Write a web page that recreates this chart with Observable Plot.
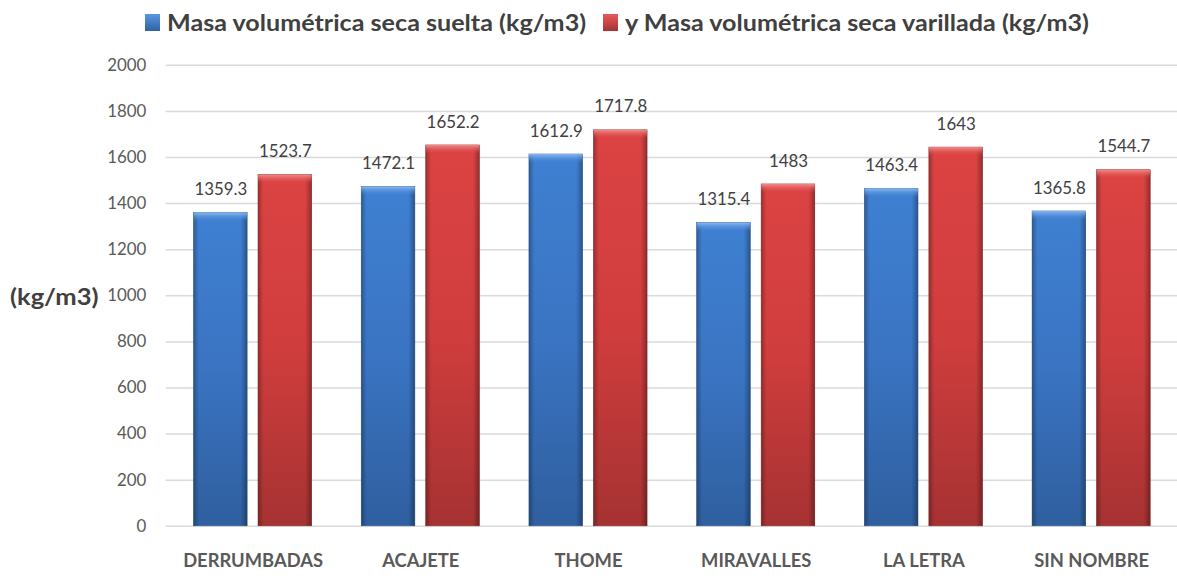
<!DOCTYPE html>
<html>
<head>
<meta charset="utf-8">
<script src="https://cdn.jsdelivr.net/npm/d3@7"></script>
<script src="https://cdn.jsdelivr.net/npm/@observablehq/plot@0.6"></script>
<style>
  html, body { margin: 0; padding: 0; background: #fff; overflow: hidden; width: 1177px; height: 578px; }
  #wrap { position: relative; width: 1177px; height: 578px; }
  #legend { position: absolute; left: 0; top: 0; height: 40px; width: 1177px; font-family: Lato, "Open Sans", sans-serif; font-weight: 700; font-size: 22px; color: #404040; }
  .item { position: absolute; top: 9px; display: flex; align-items: center; white-space: nowrap; }
  .sw { width: 15px; height: 17px; margin-right: 7px; }
  .item span { display: inline-block; transform: scaleX(1.142); transform-origin: left center; }
  #ylab { position: absolute; left: 10px; top: 283px; font-family: Lato, sans-serif; font-weight: 700; font-size: 22px; color: #404040; transform: scaleX(1.16); transform-origin: left center; }
  #chart { position: absolute; left: 0; top: 40px; }
</style>
</head>
<body>
<div id="wrap">
  <div id="legend"></div>
  <div id="ylab"></div>
  <div id="chart"></div>
</div>
<script>
// ---- data ----
const categories = ["DERRUMBADAS", "ACAJETE", "THOME", "MIRAVALLES", "LA LETRA", "SIN NOMBRE"];
const seriesNames = ["Masa volumétrica seca suelta (kg/m3)", "y Masa volumétrica seca varillada (kg/m3)"];
const suelta = [1359.3, 1472.1, 1612.9, 1315.4, 1463.4, 1365.8];
const varillada = [1523.7, 1652.2, 1717.8, 1483, 1643, 1544.7];
const yTicks = [0, 200, 400, 600, 800, 1000, 1200, 1400, 1600, 1800, 2000];
const yTitle = "(kg/m3)";

const dataS = categories.map((c, i) => ({cat: c, value: suelta[i]}));
const dataV = categories.map((c, i) => ({cat: c, value: varillada[i]}));

// legend
const legend = document.getElementById("legend");
const legendLefts = [145, 603];
const swFills = ["linear-gradient(#5a97e0,#2f62a6)", "linear-gradient(#e65a5a,#a83333)"];
seriesNames.forEach((name, i) => {
  const it = document.createElement("div");
  it.className = "item";
  it.style.left = legendLefts[i] + "px";
  const sw = document.createElement("div");
  sw.className = "sw";
  sw.style.background = swFills[i];
  const tx = document.createElement("span");
  tx.textContent = name;
  it.appendChild(sw); it.appendChild(tx);
  legend.appendChild(it);
});
document.getElementById("ylab").textContent = yTitle;

const blueInset = {insetLeft: 25, insetRight: 90};
const redInset = {insetLeft: 90, insetRight: 25};

const chart = Plot.plot({
  width: 1186,
  height: 538,
  marginLeft: 167,
  marginRight: 0,
  marginTop: 25,
  marginBottom: 48.5,
  style: {fontFamily: "Lato, 'Open Sans', sans-serif", color: "#595959", background: "transparent", overflow: "visible"},
  x: {domain: categories, padding: 0, label: null},
  y: {domain: [0, 2000], label: null},
  marks: [
    Plot.ruleY(yTicks, {stroke: "#d9d9d9", strokeWidth: 1.5}),
    Plot.axisY({ticks: yTicks, tickSize: 0, tickPadding: 20, fontSize: 17, tickFormat: d => String(d), label: null}),
    Plot.axisX({tickSize: 0, tickPadding: 28, fontSize: 18.5, fontWeight: 700, label: null}),
    // blue bars
    Plot.barY(dataS, {x: "cat", y: "value", fill: "url(#gBlue)", stroke: "#2c5a95", strokeWidth: 0.6, ...blueInset}),
    Plot.barY(dataS, {x: "cat", y: "value", fill: "url(#gEdge)", ...blueInset}),
    Plot.barY(dataS, {x: "cat", y1: "value", y2: "value", insetBottom: -8, fill: "url(#gTopBlue)", ...blueInset}),
    // red bars
    Plot.barY(dataV, {x: "cat", y: "value", fill: "url(#gRed)", stroke: "#8e2a2a", strokeWidth: 0.6, ...redInset}),
    Plot.barY(dataV, {x: "cat", y: "value", fill: "url(#gEdge)", ...redInset}),
    Plot.barY(dataV, {x: "cat", y1: "value", y2: "value", insetBottom: -8, fill: "url(#gTopRed)", ...redInset}),
    // value labels
    Plot.text(dataS, {x: "cat", y: "value", text: d => String(d.value), dx: -32.5, dy: -18, lineAnchor: "bottom", fontSize: 17, fill: "#404040"}),
    Plot.text(dataV, {x: "cat", y: "value", text: d => String(d.value), dx: 32.5, dy: -18, lineAnchor: "bottom", fontSize: 17, fill: "#404040"})
  ]
});

// gradient definitions
const svg = d3.select(chart);
const defs = svg.insert("defs", ":first-child");
function vgrad(id, stops) {
  const g = defs.append("linearGradient").attr("id", id).attr("x1", 0).attr("y1", 0).attr("x2", 0).attr("y2", 1);
  stops.forEach(([o, c, a]) => g.append("stop").attr("offset", o).attr("stop-color", c).attr("stop-opacity", a == null ? 1 : a));
}
vgrad("gBlue", [[0, "#3f80d2"], [0.5, "#3a74c2"], [1, "#2f5f9f"]]);
vgrad("gRed", [[0, "#dc4343"], [0.5, "#d03d3d"], [1, "#a63232"]]);
vgrad("gTopBlue", [[0, "#8dbcf2", 0.95], [1, "#4a8ad8", 0.15]]);
vgrad("gTopRed", [[0, "#f49090", 0.95], [1, "#de4a4a", 0.15]]);
const ge = defs.append("linearGradient").attr("id", "gEdge").attr("x1", 0).attr("y1", 0).attr("x2", 1).attr("y2", 0);
[[0, 0.28], [0.1, 0], [0.88, 0], [1, 0.32]].forEach(([o, a]) => ge.append("stop").attr("offset", o).attr("stop-color", "#000").attr("stop-opacity", a));

document.getElementById("chart").appendChild(chart);
</script>
</body>
</html>
